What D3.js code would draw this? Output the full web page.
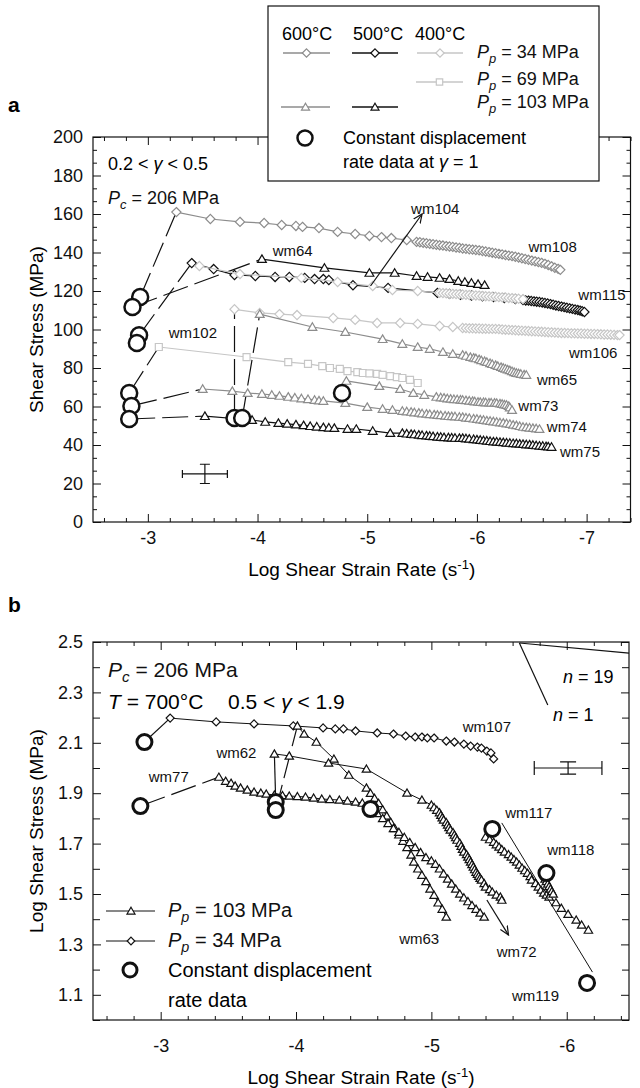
<!DOCTYPE html>
<html>
<head>
<meta charset="utf-8">
<script src="https://cdn.jsdelivr.net/npm/d3@7"></script>
<style>
  body { margin: 0; background: #fff; }
  svg { font-family: "Liberation Sans", Arial, sans-serif; }
</style>
</head>
<body>
<svg id="chart" width="640" height="1088"></svg>
<script>
// ---------- panel a: [log strain rate, shear stress MPa] ----------
const wm108 = [[-3.26,161],[-3.57,157.4],[-3.84,155.9],[-4.06,155.3],[-4.22,154.3],[-4.35,153.8],[-4.41,153.3],[-4.56,152.7],[-4.73,150.7],[-4.89,149.6],[-5.02,148.6],[-5.13,148],[-5.22,147.5],[-5.36,146.5],[-5.45,145.5],[-5.48,145.3],[-5.51,145.0],[-5.54,144.8],[-5.57,144.5],[-5.60,144.3],[-5.63,144.0],[-5.66,143.8],[-5.69,143.6],[-5.72,143.3],[-5.75,143.1],[-5.78,142.9],[-5.81,142.6],[-5.84,142.4],[-5.87,142.1],[-5.90,141.9],[-5.93,141.7],[-5.96,141.5],[-5.99,141.3],[-6.02,141.1],[-6.05,140.8],[-6.08,140.5],[-6.11,140.2],[-6.14,139.9],[-6.17,139.6],[-6.20,139.3],[-6.23,139.0],[-6.26,138.7],[-6.29,138.4],[-6.32,138.1],[-6.35,137.8],[-6.38,137.4],[-6.41,137.0],[-6.44,136.6],[-6.47,136.2],[-6.50,135.8],[-6.53,135.4],[-6.56,135.0],[-6.59,134.6],[-6.62,134.1],[-6.65,133.5],[-6.68,132.8],[-6.71,132.1],[-6.74,131.5],[-6.76,131.0]];
const wm115 = [[-3.40,134.5],[-3.60,131.4],[-3.79,128.3],[-3.98,127.8],[-4.16,127.3],[-4.29,127.3],[-4.43,126.8],[-4.52,126.2],[-4.60,126.2],[-4.65,125.7],[-4.87,123],[-5.19,121.6],[-5.64,119],[-5.75,118.5],[-5.85,118],[-5.95,117.6],[-6.05,117.2],[-6.15,116.8],[-6.25,116.3],[-6.35,115.8],[-6.42,115.3],[-6.445,115.1],[-6.47,115.0],[-6.495,114.8],[-6.52,114.6],[-6.545,114.45],[-6.57,114.3],[-6.595,114.05],[-6.62,113.8],[-6.645,113.5],[-6.67,113.2],[-6.695,112.85],[-6.72,112.5],[-6.745,112.2],[-6.77,111.9],[-6.795,111.6],[-6.82,111.3],[-6.845,111.0],[-6.87,110.7],[-6.895,110.4],[-6.92,110.1],[-6.94,109.8],[-6.96,109.5],[-6.98,109.1]];
const wm104 = [[-3.47,133],[-3.84,128.8],[-4.40,126.8],[-4.73,124.7],[-5.05,122.6],[-5.23,120.5],[-5.46,120],[-5.66,119.0],[-5.69,118.9],[-5.72,118.8],[-5.75,118.6],[-5.78,118.5],[-5.81,118.4],[-5.84,118.3],[-5.87,118.2],[-5.90,118.0],[-5.93,117.9],[-5.96,117.8],[-5.99,117.7],[-6.02,117.6],[-6.05,117.4],[-6.08,117.3],[-6.11,117.2],[-6.14,117.1],[-6.17,117.0],[-6.20,116.8],[-6.23,116.7],[-6.26,116.6],[-6.29,116.4],[-6.32,116.3],[-6.35,116.1],[-6.38,116.0],[-6.42,115.8]];
const wm64 = [[-4.04,136.6],[-4.61,132],[-5.02,129.4],[-5.25,129.4],[-5.45,127.8],[-5.55,127.3],[-5.66,126.8],[-5.75,126.2],[-5.83,125.2],[-5.89,124.7],[-5.95,124.2],[-6.01,123.6],[-6.07,123.1]];
const wm106 = [[-3.79,110.5],[-4.02,108.6],[-4.20,108],[-4.36,107.5],[-4.69,106],[-4.89,105],[-5.09,103.4],[-5.30,103.4],[-5.46,102.9],[-5.66,101.8],[-5.78,101.3],[-5.87,100.8],[-5.90,100.7],[-5.93,100.6],[-5.96,100.6],[-5.99,100.5],[-6.02,100.5],[-6.05,100.4],[-6.08,100.4],[-6.11,100.3],[-6.14,100.3],[-6.17,100.3],[-6.20,100.2],[-6.23,100.0],[-6.26,99.9],[-6.29,99.8],[-6.32,99.7],[-6.35,99.6],[-6.38,99.5],[-6.41,99.4],[-6.44,99.3],[-6.47,99.2],[-6.50,99.1],[-6.53,99.0],[-6.56,98.9],[-6.59,98.8],[-6.62,98.7],[-6.65,98.6],[-6.68,98.5],[-6.71,98.4],[-6.74,98.3],[-6.77,98.2],[-6.80,98.2],[-6.83,98.1],[-6.86,98.0],[-6.89,98.0],[-6.92,97.9],[-6.95,97.9],[-6.98,97.8],[-7.01,97.8],[-7.04,97.7],[-7.07,97.7],[-7.10,97.6],[-7.13,97.5],[-7.16,97.4],[-7.19,97.4],[-7.22,97.3],[-7.25,97.2],[-7.28,97.1],[-7.30,97.1]];
const wm102 = [[-3.10,90.9],[-3.90,85.7],[-4.28,83.1],[-4.46,82.1],[-4.59,81],[-4.66,80],[-4.75,79.5],[-4.82,78.4],[-4.91,77.9],[-4.96,77.4],[-5.02,77.2],[-5.09,76.9],[-5.14,76.4],[-5.21,75.8],[-5.27,75.3],[-5.32,74.8],[-5.39,73.8],[-5.46,72.2]];
const wm65 = [[-4.02,108],[-4.50,101.3],[-4.80,98.7],[-5.14,95],[-5.32,92.5],[-5.46,90.9],[-5.57,89.9],[-5.69,88.3],[-5.78,87.3],[-5.87,86.8],[-5.90,86.3],[-5.94,85.7],[-5.97,85.3],[-5.99,85.0],[-6.02,84.5],[-6.04,84.0],[-6.07,83.5],[-6.09,83.1],[-6.12,82.5],[-6.14,82.0],[-6.17,81.5],[-6.19,81.0],[-6.22,80.5],[-6.24,80.0],[-6.26,79.6],[-6.28,79.2],[-6.30,78.8],[-6.32,78.3],[-6.34,77.8],[-6.36,77.4],[-6.38,77.2],[-6.40,76.9],[-6.43,76.6],[-6.45,76.4]];
const wm73 = [[-4.81,73.3],[-5.11,70.6],[-5.30,69.1],[-5.42,67],[-5.52,66],[-5.63,65],[-5.67,64.7],[-5.70,64.5],[-5.73,64.2],[-5.76,64],[-5.79,63.8],[-5.82,63.7],[-5.85,63.5],[-5.87,63.4],[-5.90,63.2],[-5.93,63],[-5.96,62.8],[-5.98,62.6],[-6.01,62.4],[-6.03,62.3],[-6.06,62.2],[-6.08,62.1],[-6.11,62.0],[-6.13,62],[-6.16,61.9],[-6.18,61.8],[-6.21,61.5],[-6.23,61.3],[-6.25,61.0],[-6.27,60.8],[-6.29,60.2],[-6.30,59.5],[-6.32,58.2]];
const wm74 = [[-3.50,69.1],[-3.77,68],[-3.91,67],[-4.04,66.5],[-4.13,66],[-4.20,65.5],[-4.28,65],[-4.34,64.6],[-4.40,64.2],[-4.46,63.8],[-4.52,63.4],[-4.56,63.1],[-4.60,62.9],[-4.80,61.8],[-5.0,59.7],[-5.14,58.7],[-5.23,58.2],[-5.32,57.7],[-5.36,57.4],[-5.40,57.2],[-5.43,56.9],[-5.47,56.7],[-5.50,56.4],[-5.54,56.2],[-5.57,56.0],[-5.61,55.8],[-5.64,55.6],[-5.67,55.4],[-5.71,55.2],[-5.74,55.0],[-5.77,54.9],[-5.80,54.8],[-5.84,54.6],[-5.87,54.5],[-5.90,54.2],[-5.93,54.0],[-5.97,53.7],[-6.00,53.5],[-6.03,53.2],[-6.06,53.0],[-6.09,52.7],[-6.12,52.5],[-6.15,52.2],[-6.18,52.0],[-6.21,51.7],[-6.24,51.5],[-6.27,51.2],[-6.30,50.9],[-6.33,50.5],[-6.36,50.2],[-6.39,49.8],[-6.42,49.4],[-6.45,49.2],[-6.48,49.0],[-6.51,48.8],[-6.54,48.6],[-6.57,48.3]];
const wm75 = [[-3.52,55],[-3.95,53],[-4.07,52],[-4.19,51.4],[-4.27,51],[-4.35,50.6],[-4.42,50.2],[-4.48,49.8],[-4.54,49.5],[-4.60,49.2],[-4.65,49],[-4.70,48.8],[-4.82,48.3],[-4.90,48.3],[-5.05,47.3],[-5.21,46.2],[-5.32,46.2],[-5.36,45.9],[-5.40,45.7],[-5.43,45.5],[-5.47,45.3],[-5.50,45.1],[-5.54,44.9],[-5.57,44.7],[-5.60,44.5],[-5.64,44.3],[-5.67,44.2],[-5.70,44.0],[-5.74,43.9],[-5.77,43.8],[-5.80,43.7],[-5.84,43.6],[-5.87,43.6],[-5.90,43.4],[-5.93,43.2],[-5.97,43.0],[-6.00,42.8],[-6.03,42.6],[-6.06,42.4],[-6.09,42.2],[-6.12,42.0],[-6.15,41.8],[-6.18,41.7],[-6.21,41.5],[-6.24,41.4],[-6.27,41.2],[-6.30,41.1],[-6.33,40.9],[-6.36,40.8],[-6.39,40.6],[-6.42,40.5],[-6.45,40.3],[-6.48,40.2],[-6.51,40.0],[-6.54,39.8],[-6.57,39.6],[-6.60,39.5],[-6.63,39.3],[-6.65,39.2],[-6.68,39.0]];
const circlesA = [[-2.93,116.9],[-2.86,111.7],[-2.92,97],[-2.90,93],[-2.83,67],[-2.85,60.3],[-2.83,53.5],[-3.79,54],[-3.86,54],[-4.77,67]];
const linksA = [
  [[-2.93,116.9],[-3.26,161]],
  [[-2.86,111.7],[-4.04,136.6]],
  [[-2.92,97],[-3.40,134.5]],
  [[-2.83,67],[-3.10,90.9]],
  [[-2.85,60.3],[-3.50,69.1]],
  [[-2.83,53.5],[-3.52,55]],
  [[-3.79,54],[-3.79,110.5]],
  [[-3.86,54],[-4.02,108]]
];
const arrowA = [[-5.03,122.6],[-5.50,160]];
const labelsA = [["wm64",-4.32,140.8],["wm104",-5.62,162.6],["wm108",-6.69,142.9],["wm115",-7.14,117.9],["wm106",-7.06,87.8],["wm65",-6.73,73.8],["wm73",-6.56,60.3],["wm74",-6.82,49.4],["wm75",-6.94,36.4],["wm102",-3.41,98.2]];
const errA = {x: -3.52, y: 25, dx: 0.205, dy: 5};

// ---------- panel b: [log strain rate, log shear stress] ----------
const wm107 = [[-3.07,2.198],[-3.41,2.183],[-3.69,2.175],[-3.98,2.167],[-4.20,2.159],[-4.29,2.155],[-4.35,2.155],[-4.44,2.147],[-4.60,2.139],[-4.72,2.135],[-4.81,2.127],[-4.88,2.123],[-4.93,2.123],[-4.97,2.119],[-5.02,2.119],[-5.11,2.107],[-5.17,2.103],[-5.24,2.095],[-5.29,2.087],[-5.34,2.083],[-5.37,2.079],[-5.41,2.067],[-5.44,2.060],[-5.46,2.036]];
const wm77 = [[-3.43,1.964],[-3.48,1.948],[-3.52,1.940],[-3.55,1.929],[-3.59,1.921],[-3.64,1.913],[-3.69,1.905],[-3.74,1.901],[-3.78,1.897],[-3.84,1.893],[-3.90,1.891],[-3.95,1.889],[-4.01,1.887],[-4.07,1.885],[-4.13,1.881],[-4.19,1.877],[-4.25,1.875],[-4.32,1.873],[-4.38,1.869],[-4.44,1.865],[-4.49,1.861]];
const wm62 = [[-3.84,2.056],[-3.95,2.048],[-4.24,2.020],[-4.52,1.996],[-4.82,1.901],[-4.93,1.873],[-5.0,1.853],[-5.02,1.843],[-5.04,1.833],[-5.06,1.823],[-5.07,1.813],[-5.08,1.803],[-5.09,1.794],[-5.11,1.784],[-5.12,1.774],[-5.13,1.764],[-5.14,1.754],[-5.16,1.744],[-5.17,1.734],[-5.18,1.724],[-5.19,1.714],[-5.21,1.702],[-5.22,1.690],[-5.23,1.678],[-5.24,1.667],[-5.26,1.657],[-5.27,1.647],[-5.28,1.637],[-5.29,1.627],[-5.30,1.617],[-5.31,1.607],[-5.32,1.597],[-5.33,1.587],[-5.34,1.579],[-5.35,1.571],[-5.36,1.563],[-5.37,1.556],[-5.39,1.542],[-5.40,1.528],[-5.43,1.518],[-5.45,1.508],[-5.48,1.496],[-5.51,1.488],[-5.52,1.476]];
const wm63 = [[-4.01,2.167],[-4.06,2.135],[-4.15,2.103],[-4.28,2.036],[-4.39,1.972],[-4.52,1.921],[-4.55,1.90],[-4.58,1.88],[-4.61,1.86],[-4.64,1.835],[-4.67,1.81],[-4.70,1.785],[-4.73,1.76],[-4.76,1.735],[-4.79,1.71],[-4.82,1.685],[-4.85,1.655],[-4.87,1.627],[-4.90,1.60],[-4.93,1.575],[-4.96,1.55],[-4.99,1.52],[-5.02,1.495],[-5.05,1.465],[-5.08,1.44],[-5.11,1.409]];
const wm72 = [[-4.60,1.82],[-4.64,1.80],[-4.68,1.78],[-4.72,1.76],[-4.76,1.745],[-4.80,1.725],[-4.84,1.705],[-4.88,1.685],[-4.92,1.665],[-4.96,1.645],[-5.0,1.632],[-5.03,1.618],[-5.06,1.60],[-5.09,1.58],[-5.12,1.56],[-5.15,1.54],[-5.18,1.52],[-5.21,1.50],[-5.24,1.485],[-5.27,1.47],[-5.30,1.455],[-5.33,1.44],[-5.36,1.425],[-5.39,1.409]];
const wm117 = [[-5.40,1.726],[-5.43,1.716],[-5.46,1.706],[-5.48,1.696],[-5.50,1.687],[-5.52,1.677],[-5.54,1.667],[-5.57,1.657],[-5.59,1.647],[-5.61,1.637],[-5.63,1.627],[-5.65,1.615],[-5.67,1.603],[-5.69,1.593],[-5.71,1.583],[-5.73,1.57],[-5.74,1.556],[-5.77,1.542],[-5.79,1.528],[-5.81,1.516],[-5.83,1.504],[-5.85,1.496],[-5.87,1.488],[-5.92,1.466],[-5.96,1.444],[-6.01,1.42],[-6.07,1.397],[-6.11,1.377],[-6.16,1.357]];
const wm118 = [[-5.84,1.56],[-5.85,1.55],[-5.86,1.54],[-5.87,1.53],[-5.88,1.52],[-5.89,1.51],[-5.90,1.50]];
const wm119 = [[-5.52,1.782],[-6.19,1.19]];
const circlesB = [[-2.88,2.103],[-2.85,1.849],[-3.85,1.865],[-3.85,1.833],[-4.55,1.837],[-5.45,1.758],[-5.85,1.583],[-6.15,1.147]];
const solidLinksB = [[[-2.88,2.103],[-3.07,2.198]],[[-3.85,1.865],[-3.84,2.056]]];
const dashLinksB = [[[-2.85,1.849],[-3.43,1.964]],[[-3.85,1.833],[-4.01,2.167]]];
const arrowB = [[-5.41,1.476],[-5.57,1.337]];
const slopeN1 = [[-5.65,2.496],[-5.86,2.25]];
const slopeN19 = [[-5.65,2.496],[-6.46,2.456]];
const labelsB = [["wm107",-5.41,2.163],["wm62",-3.56,2.06],["wm77",-3.06,1.964],["wm117",-5.72,1.821],["wm118",-6.03,1.675],["wm63",-4.91,1.321],["wm72",-5.63,1.27],["wm119",-5.77,1.095]];
const errB = {x: -6.01, y: 2.0, dx: 0.25, dy: 0.024};

// ---------- drawing ----------
const svg = d3.select("#chart");
const GRAY = "#8c8c8c", LIGHT = "#c6c6c6", BLACK = "#111";

const xa = d3.scaleLinear().domain([-2.5, -7.4]).range([93, 630.5]);
const ya = d3.scaleLinear().domain([0, 200]).range([522, 137]);
const xb = d3.scaleLinear().domain([-2.5, -6.46]).range([93, 629]);
const yb = d3.scaleLinear().domain([1.0, 2.5]).range([1020, 642]);

svg.append("defs").append("marker")
  .attr("id", "arrow").attr("viewBox", "0 0 10 10").attr("refX", 9).attr("refY", 5)
  .attr("markerWidth", 10).attr("markerHeight", 10).attr("markerUnits", "userSpaceOnUse")
  .attr("orient", "auto")
  .append("path").attr("d", "M0,1 L9,5 L0,9").attr("fill", "none").attr("stroke", BLACK).attr("stroke-width", 1.2);

function shape(type, r) {
  if (type === "diamond") return `M0,${-r}L${r},0L0,${r}L${-r},0Z`;
  if (type === "triangle") return `M0,${-r}L${r * 1.05},${r * 0.8}L${-r * 1.05},${r * 0.8}Z`;
  return `M${-r},${-r}H${r}V${r}H${-r}Z`;
}

function drawSeries(g, x, y, s) {
  const line = d3.line().x(d => x(d[0])).y(d => y(d[1]));
  g.append("path").datum(s.data).attr("d", line)
    .attr("fill", "none").attr("stroke", s.color).attr("stroke-width", s.lw || 1.2);
  if (!s.marker) return;
  g.append("g").selectAll("path").data(s.data).join("path")
    .attr("transform", d => `translate(${x(d[0])},${y(d[1])})`)
    .attr("d", shape(s.marker, s.r))
    .attr("fill", "#fff").attr("stroke", s.color).attr("stroke-width", 1.2);
}

function addAxis(g, axis, tr) {
  const a = g.append("g").attr("transform", tr).call(axis);
  a.select(".domain").remove();
  a.attr("font-size", null).attr("font-family", null);
  a.selectAll("line").attr("stroke", BLACK);
  a.selectAll("text").attr("fill", BLACK);
  return a;
}

function frame(g, x, y, o) {
  const [x0, x1] = x.range(), [y0, y1] = y.range();
  g.attr("font-size", o.font);
  addAxis(g, d3.axisBottom(x).tickValues(o.minorX).tickSize(-4).tickFormat(""), `translate(0,${y0})`);
  addAxis(g, d3.axisBottom(x).tickValues(o.majorX).tickSize(-8).tickPadding(o.padX).tickFormat(d => String(d)), `translate(0,${y0})`);
  addAxis(g, d3.axisTop(x).tickValues(o.minorX).tickSize(-4).tickFormat(""), `translate(0,${y1})`);
  addAxis(g, d3.axisTop(x).tickValues(o.majorX).tickSize(-8).tickFormat(""), `translate(0,${y1})`);
  addAxis(g, d3.axisLeft(y).tickValues(o.minorY).tickSize(-o.minorLen).tickFormat(""), `translate(${x0},0)`);
  addAxis(g, d3.axisLeft(y).tickValues(o.majorY).tickSize(-8).tickPadding(10).tickFormat(o.fmtY), `translate(${x0},0)`);
  addAxis(g, d3.axisRight(y).tickValues(o.minorY).tickSize(-o.minorLen).tickFormat(""), `translate(${x1},0)`);
  addAxis(g, d3.axisRight(y).tickValues(o.majorY).tickSize(-8).tickFormat(""), `translate(${x1},0)`);
  g.append("rect").attr("x", x0).attr("y", y1).attr("width", x1 - x0).attr("height", y0 - y1)
    .attr("fill", "none").attr("stroke", BLACK).attr("stroke-width", 1.2);
  // axis titles
  const t = g.append("text").attr("x", (x0 + x1) / 2).attr("y", o.titleY)
    .attr("text-anchor", "middle").attr("font-size", 19).text("Log Shear Strain Rate (s");
  t.append("tspan").attr("dy", -7).attr("font-size", 13).text("-1");
  t.append("tspan").attr("dy", 7).text(")");
  g.append("text").attr("transform", `translate(43,${(y0 + y1) / 2}) rotate(-90)`)
    .attr("text-anchor", "middle").attr("font-size", 19).text(o.yTitle);
}

function pLabel(g, x, y, size, sub, rest) {
  const t = g.append("text").attr("x", x).attr("y", y).attr("font-size", size).attr("fill", BLACK);
  t.append("tspan").attr("font-style", "italic").text("P");
  t.append("tspan").attr("font-style", "italic").attr("font-size", size * 0.72).attr("dy", size * 0.25).text(sub);
  t.append("tspan").attr("dy", -size * 0.25).text(rest);
  return t;
}

function errorBar(g, x, y, e, capX, capY) {
  const cx = x(e.x), cy = y(e.y);
  const x0 = x(e.x + e.dx), x1 = x(e.x - e.dx), y0 = y(e.y - e.dy), y1 = y(e.y + e.dy);
  const p = `M${x0},${cy}H${x1}M${x0},${cy - capY}V${cy + capY}M${x1},${cy - capY}V${cy + capY}` +
            `M${cx},${y0}V${y1}M${cx - capX},${y0}H${cx + capX}M${cx - capX},${y1}H${cx + capX}`;
  g.append("path").attr("d", p).attr("fill", "none").attr("stroke", BLACK).attr("stroke-width", 1.2);
}

function circles(g, x, y, data, r, w) {
  g.append("g").selectAll("circle").data(data).join("circle")
    .attr("cx", d => x(d[0])).attr("cy", d => y(d[1])).attr("r", r)
    .attr("fill", "#fff").attr("stroke", BLACK).attr("stroke-width", w);
}

function links(g, x, y, data, dash) {
  const line = d3.line().x(d => x(d[0])).y(d => y(d[1]));
  g.append("g").selectAll("path").data(data).join("path")
    .attr("d", line).attr("fill", "none").attr("stroke", BLACK).attr("stroke-width", 1.2)
    .attr("stroke-dasharray", dash);
}

function wmLabels(g, x, y, data) {
  g.append("g").selectAll("text").data(data).join("text")
    .attr("x", d => x(d[1])).attr("y", d => y(d[2])).attr("dy", "0.35em")
    .attr("text-anchor", "middle").attr("font-size", 15).attr("fill", BLACK).text(d => d[0]);
}

// ===== panel a =====
const ga = svg.append("g");
const minorXa = d3.range(13, 38).map(i => -i / 5).filter(v => !Number.isInteger(v));
const minorYa = d3.range(0, 31).filter(k => k % 3 !== 0).map(k => k * 20 / 3);
frame(ga, xa, ya, {
  font: 18, majorX: [-3, -4, -5, -6, -7], minorX: minorXa, padX: 9,
  majorY: d3.range(0, 201, 20), minorY: minorYa, minorLen: 4, fmtY: d => String(d),
  titleY: 576, yTitle: "Shear Stress (MPa)"
});

links(ga, xa, ya, linksA, "26,7");
const seriesA = [
  { data: wm108, color: GRAY, marker: "diamond", r: 4.6 },
  { data: wm115, color: BLACK, marker: "diamond", r: 4.6 },
  { data: wm64, color: BLACK, marker: "triangle", r: 4.2 },
  { data: wm104, color: LIGHT, marker: "diamond", r: 4.6 },
  { data: wm106, color: LIGHT, marker: "diamond", r: 4.6 },
  { data: wm102, color: LIGHT, marker: "square", r: 3.5 },
  { data: wm65, color: GRAY, marker: "triangle", r: 4.2 },
  { data: wm73, color: GRAY, marker: "triangle", r: 4.2 },
  { data: wm74, color: GRAY, marker: "triangle", r: 4.2 },
  { data: wm75, color: BLACK, marker: "triangle", r: 4.2 }
];
seriesA.forEach(s => drawSeries(ga, xa, ya, s));
circles(ga, xa, ya, circlesA, 8, 2.5);
ga.append("path").datum(arrowA).attr("d", d3.line().x(d => xa(d[0])).y(d => ya(d[1])))
  .attr("stroke", BLACK).attr("stroke-width", 1.2).attr("fill", "none").attr("marker-end", "url(#arrow)");
wmLabels(ga, xa, ya, labelsA);
errorBar(ga, xa, ya, errA, 5, 4);

ga.append("text").attr("x", 108).attr("y", 170).attr("font-size", 18)
  .html('0.2 &lt; <tspan font-style="italic">γ</tspan> &lt; 0.5');
pLabel(ga, 108, 204, 18, "c", " = 206 MPa");
ga.append("text").attr("x", 8).attr("y", 112).attr("font-size", 21).attr("font-weight", "bold").text("a");

// legend a
const la = svg.append("g").attr("font-size", 18);
la.append("rect").attr("x", 268).attr("y", 6).attr("width", 331).attr("height", 175)
  .attr("fill", "#fff").attr("stroke", BLACK).attr("stroke-width", 1.2);
[["600°C", 282], ["500°C", 353], ["400°C", 415]].forEach(([t, x]) =>
  la.append("text").attr("x", x).attr("y", 40).text(t));
const legRows = [
  { x0: 283, x1: 330, y: 53, color: GRAY, marker: "diamond", r: 4.2 },
  { x0: 352, x1: 398, y: 53, color: BLACK, marker: "diamond", r: 4.2 },
  { x0: 417, x1: 463, y: 53, color: LIGHT, marker: "diamond", r: 4.2 },
  { x0: 416, x1: 463, y: 82, color: LIGHT, marker: "square", r: 3.2 },
  { x0: 281, x1: 330, y: 107, color: GRAY, marker: "triangle", r: 3.8 },
  { x0: 352, x1: 398, y: 107, color: BLACK, marker: "triangle", r: 3.8 }
];
legRows.forEach(r => {
  la.append("line").attr("x1", r.x0).attr("x2", r.x1).attr("y1", r.y).attr("y2", r.y)
    .attr("stroke", r.color).attr("stroke-width", 1.5);
  la.append("path").attr("transform", `translate(${(r.x0 + r.x1) / 2},${r.y})`)
    .attr("d", shape(r.marker, r.r)).attr("fill", "#fff").attr("stroke", r.color).attr("stroke-width", 1.2);
});
pLabel(la, 477, 58, 18, "p", " = 34 MPa");
pLabel(la, 477, 85, 18, "p", " = 69 MPa");
pLabel(la, 477, 108, 18, "p", " = 103 MPa");
la.append("circle").attr("cx", 305).attr("cy", 138).attr("r", 7.5)
  .attr("fill", "#fff").attr("stroke", BLACK).attr("stroke-width", 2.5);
la.append("text").attr("x", 343).attr("y", 144).text("Constant displacement");
la.append("text").attr("x", 343).attr("y", 168)
  .html('rate data at <tspan font-style="italic">γ</tspan> = 1');

// ===== panel b =====
const gb = svg.append("g");
const minorXb = d3.range(13, 33).map(i => -i / 5).filter(v => !Number.isInteger(v));
frame(gb, xb, yb, {
  font: 18, majorX: [-3, -4, -5, -6], minorX: minorXb, padX: 19,
  majorY: d3.range(11, 26, 2).map(i => i / 10), minorY: d3.range(10, 26, 2).map(i => i / 10), minorLen: 7,
  fmtY: d3.format(".1f"), titleY: 1084, yTitle: "Log Shear Stress (MPa)"
});

links(gb, xb, yb, solidLinksB, null);
links(gb, xb, yb, dashLinksB, "26,7");
links(gb, xb, yb, [slopeN1, slopeN19], null);
const seriesB = [
  { data: wm107, color: BLACK, marker: "diamond", r: 4, lw: 1 },
  { data: wm77, color: BLACK, marker: "triangle", r: 4, lw: 1 },
  { data: wm63, color: BLACK, marker: "triangle", r: 4, lw: 1 },
  { data: wm72, color: BLACK, marker: "triangle", r: 4, lw: 1 },
  { data: wm62, color: BLACK, marker: "triangle", r: 4, lw: 1 },
  { data: wm117, color: BLACK, marker: "triangle", r: 4, lw: 1 },
  { data: wm118, color: BLACK, marker: "triangle", r: 4, lw: 1 },
  { data: wm119, color: BLACK, lw: 1 }
];
seriesB.forEach(s => drawSeries(gb, xb, yb, s));
circles(gb, xb, yb, circlesB, 7.5, 3);
gb.append("path").datum(arrowB).attr("d", d3.line().x(d => xb(d[0])).y(d => yb(d[1])))
  .attr("stroke", BLACK).attr("stroke-width", 1.2).attr("fill", "none").attr("marker-end", "url(#arrow)");
wmLabels(gb, xb, yb, labelsB);
errorBar(gb, xb, yb, errB, 8, 7);

pLabel(gb, 108, 677, 21, "c", " = 206 MPa");
gb.append("text").attr("x", 108).attr("y", 709).attr("font-size", 21)
  .html('<tspan font-style="italic">T</tspan> = 700°C');
gb.append("text").attr("x", 228).attr("y", 709).attr("font-size", 21)
  .html('0.5 &lt; <tspan font-style="italic">γ</tspan> &lt; 1.9');
gb.append("text").attr("x", 563).attr("y", 683).attr("font-size", 18)
  .html('<tspan font-style="italic">n</tspan> = 19');
gb.append("text").attr("x", 553).attr("y", 721).attr("font-size", 18)
  .html('<tspan font-style="italic">n</tspan> = 1');
gb.append("text").attr("x", 8).attr("y", 612).attr("font-size", 21).attr("font-weight", "bold").text("b");

// legend b
const lb = svg.append("g").attr("font-size", 20);
[{ y: 911, marker: "triangle" }, { y: 941, marker: "diamond" }].forEach(r => {
  lb.append("line").attr("x1", 106).attr("x2", 155).attr("y1", r.y).attr("y2", r.y)
    .attr("stroke", BLACK).attr("stroke-width", 1);
  lb.append("path").attr("transform", `translate(131,${r.y})`).attr("d", shape(r.marker, 3.8))
    .attr("fill", "#fff").attr("stroke", BLACK).attr("stroke-width", 1.2);
});
pLabel(lb, 168, 917, 20, "p", " = 103 MPa");
pLabel(lb, 168, 947, 20, "p", " = 34 MPa");
lb.append("circle").attr("cx", 130).attr("cy", 970).attr("r", 7)
  .attr("fill", "#fff").attr("stroke", BLACK).attr("stroke-width", 3);
lb.append("text").attr("x", 168).attr("y", 977).text("Constant displacement");
lb.append("text").attr("x", 168).attr("y", 1007).text("rate data");
</script>
</body>
</html>
